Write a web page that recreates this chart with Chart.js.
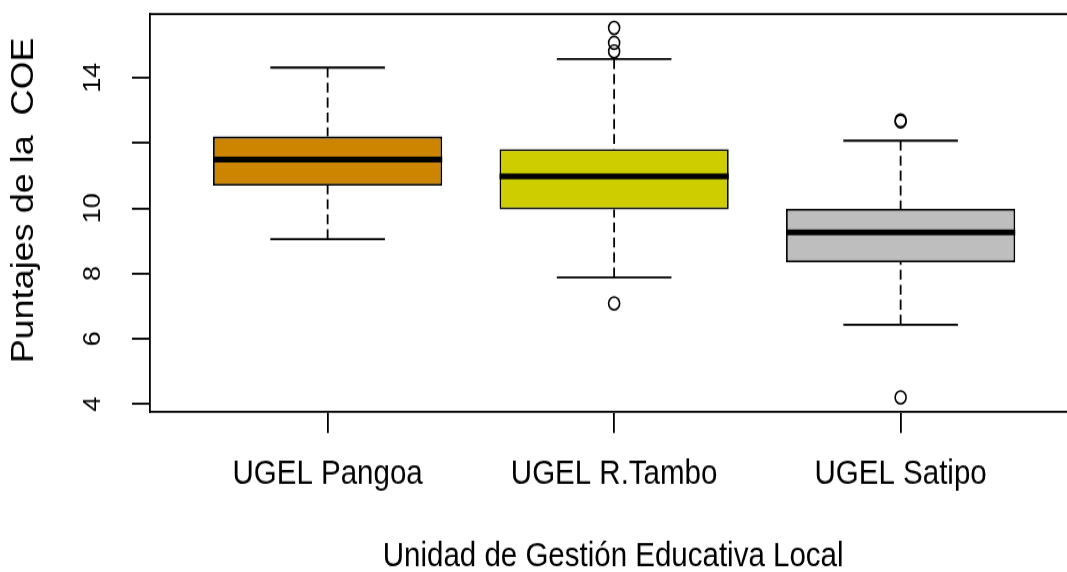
<!DOCTYPE html>
<html>
<head>
<meta charset="utf-8">
<script src="https://cdn.jsdelivr.net/npm/chart.js@4.4.1/dist/chart.umd.min.js"></script>
<style>
  html, body { margin: 0; padding: 0; background: #ffffff; overflow: hidden; }
</style>
</head>
<body>
<!-- drawn at 1067x493 and shown stretched to 1067x572 -->
<canvas id="chart" width="1067" height="493" style="display:block;width:1067px;height:572px"></canvas>
<script>
// Five-number summaries per UGEL
const categories = ['UGEL Pangoa', 'UGEL R.Tambo', 'UGEL Satipo'];
const lowerWhisker = [9.05, 7.88, 6.43];
const firstQuartile = [10.69, 9.96, 8.34];
const medians = [11.49, 10.98, 9.26];
const thirdQuartile = [12.20, 11.81, 9.98];
const upperWhisker = [14.31, 14.57, 12.07];
const outliers = [[], [15.53, 15.07, 14.81, 7.08], [12.69, 12.66, 4.20]];
const boxColors = ['#CD8500', '#CDCD00', '#BEBEBE'];

// Axis ticks and titles
const yTicks = [4, 6, 8, 10, 12, 14];
const yTickLabels = ['4', '6', '8', '10', '', '14'];
const xTitle = 'Unidad de Gestión Educativa Local';
const yTitle = 'Puntajes de la  COE';

const FONT = "'Liberation Sans', Arial, Helvetica, sans-serif";
const CHART_H = 493;
const PLOT_BOTTOM = 355.2;
const boxWidth = 0.8;   // box width in x units
const lineW = 1.8;

// whiskers, staples, medians and the top edge of the frame
const boxplotParts = {
  id: 'boxplotParts',
  afterDatasetsDraw(chart) {
    const { ctx, chartArea, scales: { x, y } } = chart;
    ctx.save();
    ctx.strokeStyle = '#000';
    ctx.lineCap = 'butt';
    ctx.lineWidth = lineW;
    ctx.beginPath();
    ctx.moveTo(chartArea.left, chartArea.top);
    ctx.lineTo(chartArea.right, chartArea.top);
    ctx.stroke();

    categories.forEach((_, i) => {
      const cx = x.getPixelForValue(i + 1);
      const halfBox = x.getPixelForValue(i + 1 + boxWidth / 2) - cx;
      const halfStaple = halfBox / 2;
      const yLo = y.getPixelForValue(lowerWhisker[i]);
      const yQ1 = y.getPixelForValue(firstQuartile[i]);
      const yMed = y.getPixelForValue(medians[i]);
      const yQ3 = y.getPixelForValue(thirdQuartile[i]);
      const yHi = y.getPixelForValue(upperWhisker[i]);

      ctx.lineWidth = lineW;
      ctx.setLineDash([8.6, 4.3]);
      ctx.beginPath();
      ctx.moveTo(cx, yHi); ctx.lineTo(cx, yQ3);
      ctx.stroke();
      ctx.beginPath();
      ctx.moveTo(cx, yLo); ctx.lineTo(cx, yQ1);
      ctx.stroke();
      ctx.setLineDash([]);

      ctx.beginPath();
      ctx.moveTo(cx - halfStaple, yHi); ctx.lineTo(cx + halfStaple, yHi);
      ctx.moveTo(cx - halfStaple, yLo); ctx.lineTo(cx + halfStaple, yLo);
      ctx.stroke();

      ctx.lineWidth = 5;
      ctx.beginPath();
      ctx.moveTo(cx - halfBox, yMed); ctx.lineTo(cx + halfBox, yMed);
      ctx.stroke();
    });
    ctx.restore();
  }
};

// axis titles: x title under the middle group, y title rotated along the left margin
const axisTitles = {
  id: 'axisTitles',
  afterDraw(chart) {
    const { ctx, chartArea, scales: { x } } = chart;
    ctx.save();
    ctx.fillStyle = '#000';
    ctx.textAlign = 'center';
    ctx.textBaseline = 'middle';
    ctx.font = `29.5px ${FONT}`;
    ctx.fillText(xTitle, x.getPixelForValue(2) - 1, 480);
    ctx.translate(24, (chartArea.top + chartArea.bottom) / 2 - 11);
    ctx.rotate(-Math.PI / 2);
    ctx.font = `31px ${FONT}`;
    ctx.fillText(yTitle, 0, 0);
    ctx.restore();
  }
};

const boxData = categories.map((_, i) => ({ x: i + 1, y: [firstQuartile[i], thirdQuartile[i]] }));
const outlierData = outliers.flatMap((vals, i) => vals.map(v => ({ x: i + 1, y: v })));

new Chart(document.getElementById('chart'), {
  type: 'bar',
  data: {
    datasets: [
      {
        type: 'bar',
        data: boxData,
        backgroundColor: boxColors,
        borderColor: '#000',
        borderWidth: lineW,
        borderSkipped: false,
        categoryPercentage: 1,
        barPercentage: boxWidth
      },
      {
        type: 'scatter',
        data: outlierData,
        pointStyle: 'circle',
        pointRadius: 5.5,
        pointBorderWidth: 1.6,
        pointBorderColor: '#000',
        pointBackgroundColor: 'rgba(0,0,0,0)',
        showLine: false
      }
    ]
  },
  plugins: [boxplotParts, axisTitles],
  options: {
    responsive: false,
    animation: false,
    devicePixelRatio: 1,
    layout: { autoPadding: false, padding: { top: 12.1, left: 0, right: 0, bottom: 0 } },
    plugins: { legend: { display: false }, tooltip: { enabled: false } },
    scales: {
      x: {
        type: 'linear',
        min: 0.38,
        max: 3.5807,
        offset: false,
        afterBuildTicks: (scale) => { scale.ticks = categories.map((_, i) => ({ value: i + 1 })); },
        afterFit: (scale) => {
          scale.height = CHART_H - PLOT_BOTTOM;
          scale.paddingLeft = 0; scale.paddingRight = 0;
        },
        grid: { offset: false, drawOnChartArea: false, drawTicks: true, tickLength: 18, tickColor: '#000', lineWidth: lineW },
        border: { display: true, color: '#000', width: lineW },
        ticks: {
          autoSkip: false,
          maxRotation: 0,
          minRotation: 0,
          padding: 18,
          color: '#000',
          font: { family: FONT, size: 29.5 },
          callback: (value) => categories[value - 1] ?? ''
        },
        title: { display: false }
      },
      y: {
        type: 'linear',
        min: 3.748,
        max: 15.952,
        beginAtZero: false,
        afterBuildTicks: (scale) => { scale.ticks = yTicks.map(v => ({ value: v })); },
        afterFit: (scale) => {
          scale.width = 150;
          scale.paddingTop = 0; scale.paddingBottom = 0;
        },
        grid: { drawOnChartArea: false, drawTicks: true, tickLength: 18, tickColor: '#000', lineWidth: lineW },
        border: { display: true, color: '#000', width: lineW },
        ticks: {
          minRotation: 90,
          maxRotation: 90,
          crossAlign: 'center',
          padding: 25.5,
          color: '#000',
          font: { family: FONT, size: 23.5 },
          callback: (value) => yTickLabels[yTicks.indexOf(value)] ?? ''
        },
        title: { display: false }
      }
    }
  }
});
</script>
</body>
</html>
